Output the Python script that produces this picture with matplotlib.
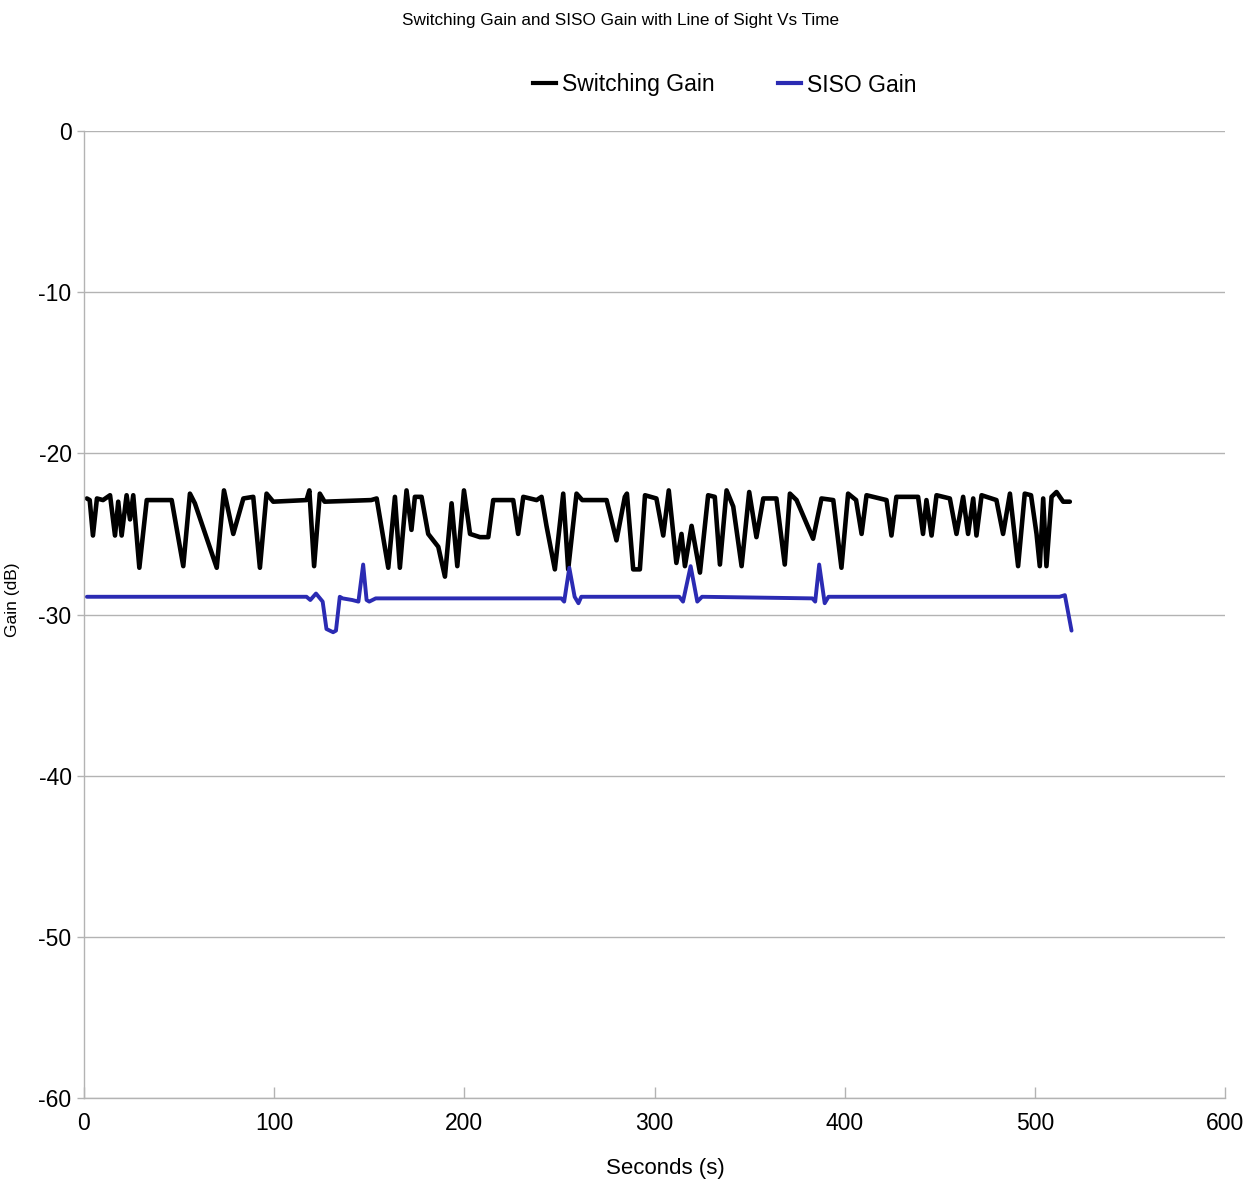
import matplotlib
matplotlib.use('Agg')
import matplotlib.pyplot as plt
from matplotlib.lines import Line2D

FONT = ['Liberation Sans', 'DejaVu Sans']

# Switching gain trace (seconds, dB)
sw_time = [1.5, 3.0, 4.7, 6.8, 10, 13.7, 16.3, 18, 19.8, 22.4, 24.2, 25.9, 29.1, 33,
           46.1, 52.2, 55.7, 58.3, 69.8, 73.6, 78.5, 83.8, 89, 92.5, 96, 99.5,
           117, 118.5, 121, 124, 126.5, 151, 153.9, 160, 163.5, 166.1, 169.6,
           172.2, 174, 177.5, 181, 186.3, 189.8, 193.3, 196.3, 199.8, 203, 208.2,
           212.6, 215.2, 225.7, 228.3, 231, 238, 240.6, 243.2, 247.6, 252, 254.6,
           259, 262, 274.8, 280, 284.4, 285.5, 288.8, 292.3, 295, 301, 304.6,
           307.5, 311.5, 314.2, 316, 319.5, 323.9, 328.2, 331.7, 334.4, 337.9,
           341.4, 345.8, 349.8, 353.6, 357.2, 364.1, 368.5, 371.2, 374.7, 383.4,
           387.8, 394, 398.3, 401.8, 406, 408.9, 411.5, 422, 424.6, 427.2, 438.6,
           441.2, 443, 445.7, 448.3, 455.3, 458.8, 462.3, 464.9, 467.6, 469.3,
           472, 479.8, 483.3, 486.9, 491.2, 494.7, 498, 500.9, 502.6, 504.4,
           506.1, 508.8, 511.4, 514.9, 518.4]
sw_gain = [-22.8, -22.9, -25.1, -22.8, -22.9, -22.6, -25.1, -23.0, -25.1, -22.6, -24.1, -22.6, -27.1, -22.9,
           -22.9, -27.0, -22.5, -23.1, -27.1, -22.3, -25.0, -22.8, -22.7, -27.1, -22.5, -23.0,
           -22.9, -22.3, -27.0, -22.5, -23.0, -22.9, -22.8, -27.1, -22.7, -27.1, -22.3,
           -24.75, -22.7, -22.7, -25.0, -25.8, -27.65, -23.1, -27.0, -22.3, -25.0, -25.2,
           -25.2, -22.9, -22.9, -25.0, -22.7, -22.9, -22.7, -24.5, -27.2, -22.5, -27.2,
           -22.5, -22.9, -22.9, -25.4, -22.7, -22.5, -27.2, -27.2, -22.6, -22.8, -25.1,
           -22.3, -26.8, -25.0, -27.0, -24.5, -27.4, -22.6, -22.7, -26.9, -22.3,
           -23.3, -27.0, -22.4, -25.2, -22.8, -22.8, -26.9, -22.5, -22.9, -25.3,
           -22.8, -22.9, -27.1, -22.5, -22.9, -25.0, -22.6, -22.9, -25.1, -22.7, -22.7,
           -25.0, -22.9, -25.1, -22.6, -22.8, -25.0, -22.7, -25.0, -22.8, -25.1,
           -22.6, -22.9, -25.0, -22.5, -27.0, -22.5, -22.6, -25.0, -27.0, -22.8,
           -27.0, -22.7, -22.4, -23.0, -23.0]

# SISO gain trace (seconds, dB)
siso_time = [1.5, 117, 119, 122, 125.5, 127.5, 131, 132.5, 134.5, 136, 141, 144.3,
             146.8, 148.6, 150, 153.4, 251, 252.5, 255.2, 258, 260, 261.5, 313, 315,
             319, 322.5, 325, 383, 384.5, 386.6, 389.5, 391.5, 513, 515.8, 519.3]
siso_gain = [-28.9, -28.9, -29.1, -28.7, -29.2, -30.9, -31.1, -31.0, -28.9, -29.0, -29.1, -29.2,
             -26.9, -29.1, -29.2, -29.0, -29.0, -29.2, -27.1, -28.9, -29.3, -28.9, -28.9, -29.2,
             -27.0, -29.2, -28.9, -29.0, -29.2, -26.9, -29.3, -28.9, -28.9, -28.8, -31.0]

x_ticks = [0, 100, 200, 300, 400, 500, 600]
y_ticks = [0, -10, -20, -30, -40, -50, -60]

BLACK = '#000000'
BLUE = '#2b2bb3'
GRID = '#b3b3b3'

fig = plt.figure(figsize=(12.57, 11.99), dpi=100)
ax = fig.add_axes([84 / 1257, 1 - 1098 / 1199, (1225 - 84) / 1257, (1098 - 131) / 1199])

ax.plot(sw_time, sw_gain, color=BLACK, linewidth=3.3,
        solid_joinstyle='round', solid_capstyle='round')
ax.plot(siso_time, siso_gain, color=BLUE, linewidth=2.8,
        solid_joinstyle='round', solid_capstyle='round')

ax.set_xlim(0, 600)
ax.set_ylim(-60, 0)
ax.set_xticks(x_ticks)
ax.set_yticks(y_ticks)
ax.set_xticklabels([str(v) for v in x_ticks], family=FONT, fontsize=16.5)
ax.set_yticklabels([str(v) for v in y_ticks], family=FONT, fontsize=16.5)
ax.tick_params(axis='x', direction='in', length=8, width=1, color=GRID, pad=10)
ax.tick_params(axis='y', direction='out', length=5, width=1, color=GRID, pad=4)
ax.yaxis.grid(True, color=GRID, linewidth=1)
ax.set_axisbelow(True)
for s in ['top', 'right']:
    ax.spines[s].set_visible(False)
for s in ['left', 'bottom']:
    ax.spines[s].set_color(GRID)
    ax.spines[s].set_linewidth(1)

ax.set_xlabel('Seconds (s)', family=FONT, fontsize=16)
ax.xaxis.set_label_coords((665 - 84) / 1141, -(1158 - 1098) / 967)
ax.set_ylabel('Gain (dB)', family=FONT, fontsize=12.5)
ax.yaxis.set_label_coords(-(84 - 20) / 1141, (1098 - 600) / 967)

fig.text(0.494, 1 - 20 / 1199, 'Switching Gain and SISO Gain with Line of Sight Vs Time',
         ha='center', va='center', family=FONT, fontsize=12.3)

handles = [Line2D([0], [0], color=BLACK, linewidth=3),
           Line2D([0], [0], color=BLUE, linewidth=3)]
fig.legend(handles, ['Switching Gain', 'SISO Gain'], loc='center',
           bbox_to_anchor=(0.5765, 1 - 85 / 1199), ncol=2, frameon=False,
           prop={'family': FONT, 'size': 16.5}, handlelength=1.0,
           handletextpad=0.25, columnspacing=2.8)

fig.savefig('out.png', dpi=100)
